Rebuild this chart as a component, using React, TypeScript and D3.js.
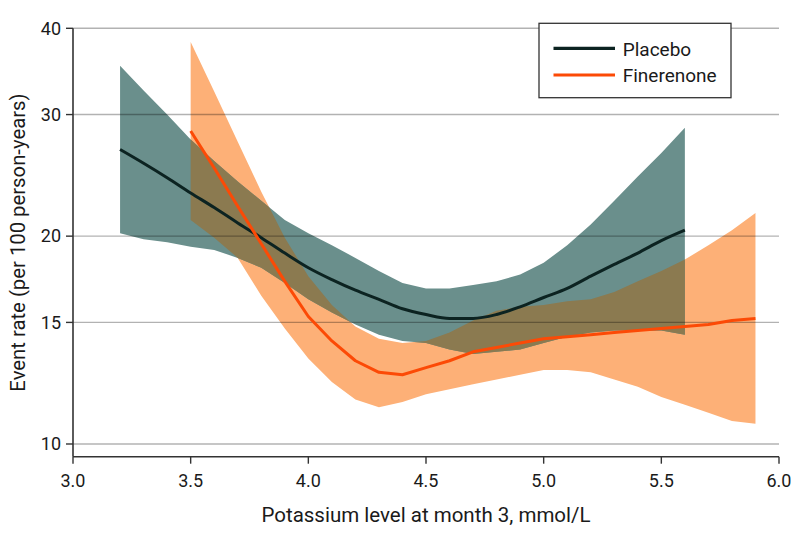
import React from "react";
import * as d3 from "d3";

const placeboK = [3.2, 3.3, 3.4, 3.5, 3.6, 3.7, 3.8, 3.9, 4.0, 4.1, 4.2, 4.3, 4.4, 4.5, 4.6, 4.7, 4.8, 4.9, 5.0, 5.1, 5.2, 5.3, 5.4, 5.5, 5.6];
const placeboRate = [26.7, 25.5, 24.3, 23.1, 22.0, 20.9, 19.9, 18.9, 18.0, 17.3, 16.7, 16.2, 15.7, 15.4, 15.2, 15.2, 15.4, 15.8, 16.3, 16.8, 17.5, 18.2, 18.9, 19.7, 20.4];
const placeboUpper = [35.3, 32.5, 30.0, 27.6, 25.7, 24.0, 22.5, 21.1, 20.2, 19.4, 18.6, 17.8, 17.1, 16.8, 16.8, 17.0, 17.2, 17.6, 18.3, 19.4, 20.8, 22.5, 24.4, 26.4, 28.7];
const placeboLower = [20.2, 19.8, 19.6, 19.3, 19.1, 18.6, 18.0, 17.1, 16.2, 15.5, 14.9, 14.4, 14.1, 14.0, 13.7, 13.5, 13.6, 13.7, 14.0, 14.3, 14.5, 14.6, 14.6, 14.6, 14.4];

const finerenoneK = [3.5, 3.6, 3.7, 3.8, 3.9, 4.0, 4.1, 4.2, 4.3, 4.4, 4.5, 4.6, 4.7, 4.8, 4.9, 5.0, 5.1, 5.2, 5.3, 5.4, 5.5, 5.6, 5.7, 5.8, 5.9];
const finerenoneRate = [28.4, 25.1, 22.1, 19.5, 17.2, 15.3, 14.1, 13.2, 12.7, 12.6, 12.9, 13.2, 13.6, 13.8, 14.0, 14.2, 14.3, 14.4, 14.5, 14.6, 14.7, 14.8, 14.9, 15.1, 15.2];
const finerenoneUpper = [38.2, 32.4, 27.4, 23.2, 19.9, 17.5, 15.9, 14.8, 14.2, 14.0, 14.1, 14.5, 15.1, 15.6, 15.8, 15.9, 16.1, 16.2, 16.6, 17.2, 17.8, 18.5, 19.4, 20.4, 21.6];
const finerenoneLower = [21.1, 19.9, 18.6, 16.4, 14.7, 13.3, 12.3, 11.6, 11.3, 11.5, 11.8, 12.0, 12.2, 12.4, 12.6, 12.8, 12.8, 12.7, 12.4, 12.1, 11.7, 11.4, 11.1, 10.8, 10.7];

const xTicks = [3.0, 3.5, 4.0, 4.5, 5.0, 5.5, 6.0];
const yTicks = [10, 15, 20, 30, 40];
const xDomain = [3, 6];
const yDomain = [9.585, 40];

const seriesNames = ["Placebo", "Finerenone"];
const xTitle = "Potassium level at month 3, mmol/L";
const yTitle = "Event rate (per 100 person-years)";

const FONT = "Roboto, 'Noto Sans', sans-serif";
const TEAL = "#6a8f8c";
const ORANGE = "#fdb077";
const OVERLAP = "#8b7a50";
const PLACEBO_LINE = "#0c2321";
const FIN_LINE = "#fc4a06";

type Pt = { k: number; v: number; lo: number; hi: number };

function build(k: number[], v: number[], lo: number[], hi: number[]): Pt[] {
  return k.map((kk, i) => ({ k: kk, v: v[i], lo: lo[i], hi: hi[i] }));
}

export default function App() {
  const W = 794;
  const H = 542;
  const left = 73;
  const right = 779;
  const top = 28.3;
  const bottom = 456.7;

  const x = d3.scaleLinear().domain(xDomain).range([left, right]);
  const y = d3.scaleLog().domain(yDomain).range([bottom, top]);

  const placebo = build(placeboK, placeboRate, placeboLower, placeboUpper);
  const fin = build(finerenoneK, finerenoneRate, finerenoneLower, finerenoneUpper);

  const area = d3
    .area<Pt>()
    .x((d) => x(d.k))
    .y0((d) => y(d.lo))
    .y1((d) => y(d.hi))
    .curve(d3.curveLinear);
  const smoothLine = d3
    .line<Pt>()
    .x((d) => x(d.k))
    .y((d) => y(d.v))
    .curve(d3.curveMonotoneX);
  const line = d3
    .line<Pt>()
    .x((d) => x(d.k))
    .y((d) => y(d.v))
    .curve(d3.curveLinear);

  const placeboArea = area(placebo) || "";
  const finArea = area(fin) || "";

  const legendX = 539;
  const legendY = 23.3;
  const legendW = 192;
  const legendH = 74.4;
  const legendRows = [
    { name: seriesNames[0], color: PLACEBO_LINE, y: 48.3 },
    { name: seriesNames[1], color: FIN_LINE, y: 75 },
  ];

  return (
    <svg
      width={W}
      height={H}
      style={{ position: "absolute", left: 0, top: 0, background: "#fff" }}
      fontFamily={FONT}
    >
      <defs>
        <clipPath id="placeboClip">
          <path d={placeboArea} />
        </clipPath>
      </defs>
      <rect x={0} y={0} width={W} height={H} fill="#fff" />

      {/* bands */}
      <path d={finArea} fill={ORANGE} />
      <path d={placeboArea} fill={TEAL} />
      <path d={finArea} fill={OVERLAP} clipPath="url(#placeboClip)" />

      {/* grid lines */}
      {yTicks.map((t) => (
        <line
          key={"g" + t}
          x1={left}
          x2={right}
          y1={y(t)}
          y2={y(t)}
          stroke="#000"
          strokeOpacity={0.3}
          strokeWidth={1.4}
        />
      ))}

      {/* lines */}
      <path d={smoothLine(placebo) || ""} fill="none" stroke={PLACEBO_LINE} strokeWidth={3} strokeLinejoin="round" />
      <path d={line(fin) || ""} fill="none" stroke={FIN_LINE} strokeWidth={3} strokeLinejoin="round" />

      {/* axes */}
      <line x1={left} x2={left} y1={top} y2={bottom} stroke="#333" strokeWidth={1.6} />
      <line x1={left} x2={right} y1={bottom} y2={bottom} stroke="#333" strokeWidth={1.6} />
      {yTicks.map((t) => (
        <g key={"yt" + t}>
          <line x1={left - 7} x2={left} y1={y(t)} y2={y(t)} stroke="#333" strokeWidth={1.4} />
          <text x={61} y={y(t) + 6.2} textAnchor="end" fontSize={18} fill="#1a1a1a">
            {t}
          </text>
        </g>
      ))}
      {xTicks.map((t) => (
        <g key={"xt" + t}>
          <line x1={x(t)} x2={x(t)} y1={bottom} y2={bottom + 7} stroke="#333" strokeWidth={1.4} />
          <text x={x(t)} y={486.5} textAnchor="middle" fontSize={18} fill="#1a1a1a">
            {t.toFixed(1)}
          </text>
        </g>
      ))}

      {/* titles */}
      <text x={(left + right) / 2} y={521.5} textAnchor="middle" fontSize={20.5} fill="#1a1a1a">
        {xTitle}
      </text>
      <text
        transform={`translate(24.5, ${(top + bottom) / 2}) rotate(-90)`}
        textAnchor="middle"
        fontSize={20.3}
        fill="#1a1a1a"
      >
        {yTitle}
      </text>

      {/* legend */}
      <rect x={legendX} y={legendY} width={legendW} height={legendH} fill="#fff" stroke="#333" strokeWidth={1.3} />
      {legendRows.map((r) => (
        <g key={r.name}>
          <line x1={553.5} x2={615} y1={r.y} y2={r.y} stroke={r.color} strokeWidth={3.2} />
          <text x={622.7} y={r.y + 7.3} fontSize={19} fill="#1a1a1a">
            {r.name}
          </text>
        </g>
      ))}
    </svg>
  );
}
